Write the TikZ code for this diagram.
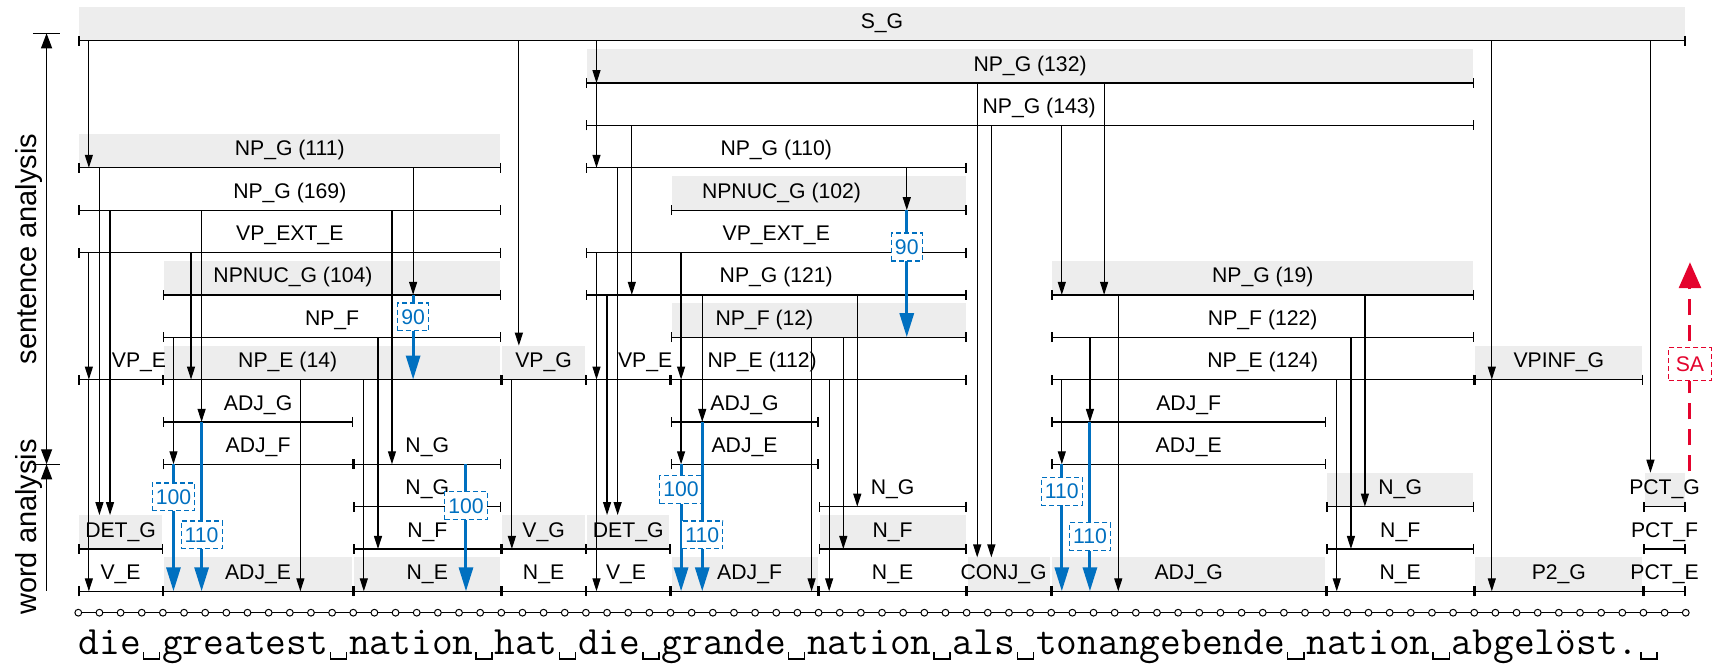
\documentclass[tikz,border=0pt]{standalone}
\usepackage{fontspec}
\setmainfont{Liberation Sans}
\usetikzlibrary{arrows.meta}
\definecolor{bandgray}{HTML}{EDEDED}
\definecolor{weightblue}{HTML}{0070C0}
\definecolor{backred}{HTML}{E4032D}
\newcommand{\vsp}{\makebox[0.525em]{\rule[-0.12em]{0.04em}{0.2em}\rule[-0.12em]{0.36em}{0.04em}\rule[-0.12em]{0.04em}{0.2em}}}
% left / right / level / label x / fill / label
\newcommand{\segments}{%
  0/76/13/38/bandgray/S\_G,
  24/66/12/45/bandgray/NP\_G (132),
  24/66/11/45.43/none/NP\_G (143),
  0/20/10/10/bandgray/NP\_G (111),
  24/42/10/33/none/NP\_G (110),
  0/20/9/10/none/NP\_G (169),
  28/42/9/33.25/bandgray/NPNUC\_G (102),
  0/20/8/10/none/VP\_EXT\_E,
  24/42/8/33/none/VP\_EXT\_E,
  4/20/7/10.15/bandgray/NPNUC\_G (104),
  24/42/7/33/none/NP\_G (121),
  46/66/7/56/bandgray/NP\_G (19),
  4/20/6/12/none/NP\_F,
  28/42/6/32.44/bandgray/NP\_F (12),
  46/66/6/56/none/NP\_F (122),
  0/4/5/2.87/none/VP\_E,
  4/20/5/9.9/bandgray/NP\_E (14),
  20/24/5/22/bandgray/VP\_G,
  24/28/5/26.8/none/VP\_E,
  28/42/5/32.33/none/NP\_E (112),
  46/66/5/56/none/NP\_E (124),
  66/74/5/70/bandgray/VPINF\_G,
  4/13/4/8.5/none/ADJ\_G,
  28/35/4/31.5/none/ADJ\_G,
  46/59/4/52.5/none/ADJ\_F,
  4/13/3/8.5/none/ADJ\_F,
  13/20/3/16.5/none/N\_G,
  28/35/3/31.5/none/ADJ\_E,
  46/59/3/52.5/none/ADJ\_E,
  13/20/2/16.5/none/N\_G,
  35/42/2/38.5/none/N\_G,
  59/66/2/62.5/bandgray/N\_G,
  74/76/2/75/bandgray/PCT\_G,
  0/4/1/2/bandgray/DET\_G,
  13/20/1/16.5/none/N\_F,
  20/24/1/22/bandgray/V\_G,
  24/28/1/26/bandgray/DET\_G,
  35/42/1/38.5/bandgray/N\_F,
  59/66/1/62.5/none/N\_F,
  74/76/1/75/none/PCT\_F,
  0/4/0/2/none/V\_E,
  4/13/0/8.5/bandgray/ADJ\_E,
  13/20/0/16.5/bandgray/N\_E,
  20/24/0/22/none/N\_E,
  24/28/0/25.9/none/V\_E,
  28/35/0/31.74/bandgray/ADJ\_F,
  35/42/0/38.5/none/N\_E,
  42/46/0/43.75/bandgray/CONJ\_G,
  46/59/0/52.5/bandgray/ADJ\_G,
  59/66/0/62.5/none/N\_E,
  66/74/0/70/bandgray/P2\_G,
  74/76/0/75/none/PCT\_E}

\begin{document}
\begin{tikzpicture}[
  x=10.575pt,
  y=21.175pt,
  every node/.style={font=\fontsize{10.6}{12}\selectfont},
  segline/.style={line width=0.65pt, {Bar[width=5pt]}-{Bar[width=5pt]}},
  lbl/.style={anchor=base, inner sep=0pt},
  dep/.style={line width=0.6pt, -{Triangle[length=6.5pt, width=4pt]}},
  bluedep/.style={weightblue, line width=1.5pt, -{Triangle[length=12pt, width=7pt]}},
  numbox/.style={draw=weightblue, line width=0.6pt, dash pattern=on 2.5pt off 1.5pt,
                 fill=white, text=weightblue, inner xsep=1.8pt, inner ysep=3.2pt},
  backarrow/.style={backred, line width=1.5pt, dash pattern=on 8pt off 5pt,
                    -{Triangle[length=13pt, width=11pt]}},
  sabox/.style={draw=backred, line width=0.6pt, dash pattern=on 2.5pt off 1.5pt,
                fill=white, text=backred, inner xsep=3.5pt, inner ysep=4.5pt},
  sidearrow/.style={line width=0.65pt},
  sidetext/.style={rotate=90, font=\fontsize{14.5}{16}\selectfont}
]
  % ---- frame of the figure ----
  \useasboundingbox (-3.702,-1.811) rectangle (77.43,13.962);

  % ---- grey bands behind the labelled spans ----
  \foreach \a/\b/\k/\lx/\f/\t in \segments
    \path[fill=\f] (\a+0.05,\k) rectangle (\b-0.05,\k+0.8);

  % ---- spans and their labels ----
  \foreach \a/\b/\k/\lx/\f/\t [count=\i] in \segments {
    \draw[segline] (\a,\k) -- (\b,\k);
    \node[lbl] (seg\i) at (\lx,\k+0.28) {\t};
  }

  % ---- links between levels: x / from / to ----
  \foreach \x/\s/\e in {0.5/13/10, 0.5/8/5, 0.5/5/0, 1/10/1.8, 1.5/9/1.8,
      4.5/6/3, 5.33/8/5, 5.83/9/4, 10.5/5/0, 15.83/10/7, 14.83/9/3,
      14.17/6/1, 13.5/5/0, 20.83/13/5.8, 20.5/5/1,
      24.5/13/12, 24.5/12/10, 24.5/8/5, 24.5/5/0, 26.17/11/7, 25.5/10/1.8,
      25/7/1.8, 28.5/8/5, 28.5/5/3, 29.5/7/4, 34.67/6/0, 35.5/5/0,
      36.17/6/1, 36.83/7/2, 39.17/10/9,
      42.5/12/0.8, 43.17/11/0.8, 46.5/11/7, 48.5/12/7, 49.17/7/0,
      47.83/6/4, 46.5/5/3, 60.83/7/2, 60.17/6/1, 59.5/5/0,
      66.83/13/5, 66.83/5/0, 74.33/13/2.8}
    \draw[dep] (\x,\s) -- (\x,\e);

  % ---- weighted links: x / from / to / box level / weight ----
  \foreach \x/\s/\e/\n/\w [count=\i] in {4.5/3/0/2.23/100, 5.83/4/0/1.33/110,
      15.83/7/5/6.48/90, 18.33/3/0/2.02/100, 28.5/3/0/2.4/100,
      29.5/4/0/1.33/110, 39.17/9/6/8.13/90, 46.5/3/0/2.36/110,
      47.83/4/0/1.29/110} {
    \draw[bluedep] (\x,\s) -- (\x,\e);
    \node[numbox] (wt\i) at (\x,\n) {\w};
  }

  % ---- feedback to the sentence analysis ----
  \coordinate (sa-foot) at (76.2,2.83);
  \coordinate (sa-head) at (76.2,7.77);
  \draw[backarrow] (sa-foot) -- (sa-head);
  \node[sabox] (sa) at (76.2,5.36) {SA};

  % ---- characters of the input ----
  \draw[line width=0.5pt] (0,-0.505) -- (76,-0.505);
  \foreach \i in {0,...,76}
    \draw[line width=0.5pt, fill=white] (\i,-0.505) circle (1.7pt);
  \node[anchor=base west, inner sep=0pt,
        font=\ttfamily\fontsize{20.14}{22}\selectfont] (sentence) at (0,-1.5)
    {die\vsp greatest\vsp nation\vsp hat\vsp die\vsp grande\vsp nation\vsp als\vsp tonangebende\vsp nation\vsp abgelöst.\vsp};

  % ---- the two analysis stages ----
  \coordinate (top-l) at (-2.15,13.175);
  \coordinate (top-r) at (-0.87,13.175);
  \coordinate (mid-l) at (-2.15,3);
  \coordinate (mid-r) at (-0.87,3);
  \draw[sidearrow] (top-l) -- (top-r);
  \draw[sidearrow] (mid-l) -- (mid-r);
  \draw[sidearrow, {Triangle[length=7.5pt, width=5.5pt]}-{Triangle[length=7.5pt, width=5.5pt]}]
    (-1.5,13.175) -- (-1.5,3);
  \draw[sidearrow, {Triangle[length=7.5pt, width=5.5pt]}-] (-1.5,3) -- (-1.5,0);
  \node[sidetext] (sent-an) at (-2.35,8.08) {sentence analysis};
  \node[sidetext] (word-an) at (-2.35,1.52) {word analysis};
\end{tikzpicture}
\end{document}
